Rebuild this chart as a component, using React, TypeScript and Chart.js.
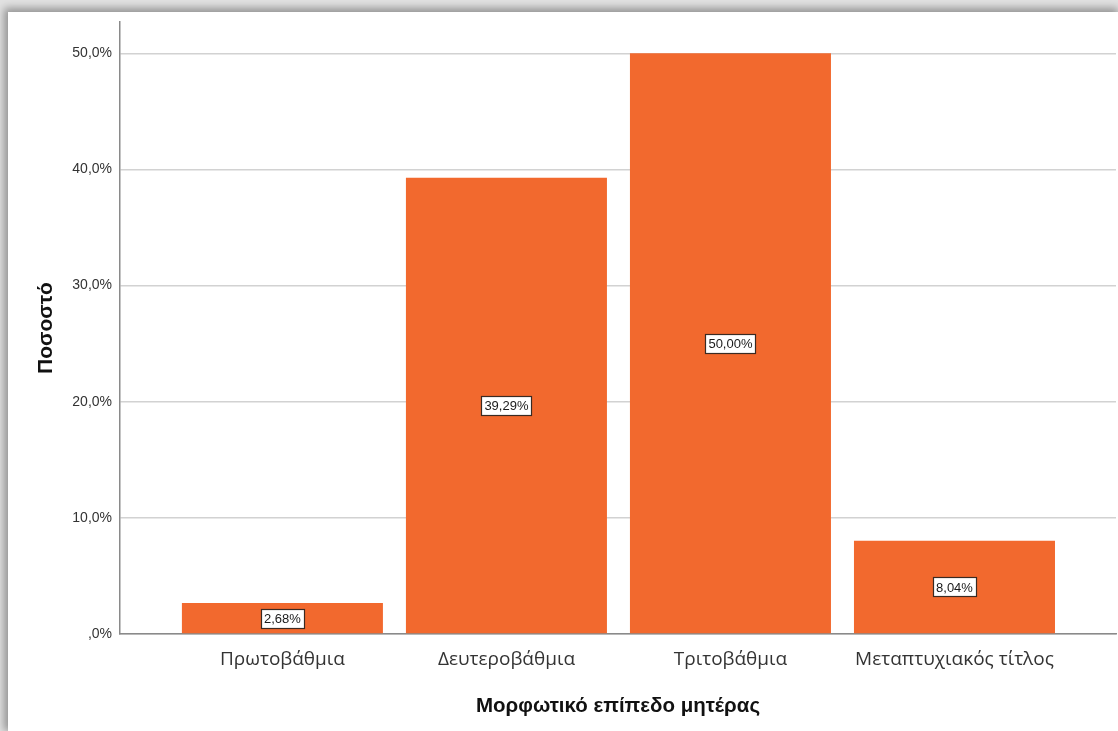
import React, { useEffect, useRef } from "react";
import { Chart, registerables } from "chart.js";

Chart.register(...registerables);

const categories = ["Πρωτοβάθμια", "Δευτεροβάθμια", "Τριτοβάθμια", "Μεταπτυχιακός τίτλος"];
const percentages = [2.68, 39.29, 50.0, 8.04];
const valueLabels = ["2,68%", "39,29%", "50,00%", "8,04%"];
const yTickValues = [0, 10, 20, 30, 40, 50];
const yTickLabels = [",0%", "10,0%", "20,0%", "30,0%", "40,0%", "50,0%"];
const xTitle = "Μορφωτικό επίπεδο μητέρας";
const yTitle = "Ποσοστό";

const BAR_COLOR = "#f2692e";

const boxLabelPlugin = {
  id: "boxLabels",
  afterDatasetsDraw(chart: any) {
    const ctx = chart.ctx;
    const meta = chart.getDatasetMeta(0);
    ctx.save();
    ctx.font = "13px 'Liberation Sans', Arial, sans-serif";
    ctx.textAlign = "center";
    ctx.textBaseline = "middle";
    meta.data.forEach((bar: any, i: number) => {
      const text = valueLabels[i];
      const cx = bar.x;
      const cy = (bar.y + bar.base) / 2;
      const w = ctx.measureText(text).width + 6;
      const h = 19;
      const x0 = Math.round(cx - w / 2) + 0.5;
      const y0 = Math.round(cy - h / 2) + 0.5;
      ctx.fillStyle = "#ffffff";
      ctx.fillRect(x0, y0, Math.round(w), h);
      ctx.strokeStyle = "#3a2a22";
      ctx.lineWidth = 1.2;
      ctx.strokeRect(x0, y0, Math.round(w), h);
      ctx.fillStyle = "#1a1a1a";
      ctx.fillText(text, cx, cy + 1);
    });
    ctx.restore();
  },
};

export default function App() {
  const canvasRef = useRef<HTMLCanvasElement | null>(null);

  useEffect(() => {
    document.body.style.margin = "0";
    const canvas = canvasRef.current;
    if (!canvas) return;
    const chart = new Chart(canvas, {
      type: "bar",
      data: {
        datasets: [
          {
            data: categories.map((_, i) => ({ x: i, y: percentages[i] })) as any,
            backgroundColor: BAR_COLOR,
            borderWidth: 0,
            barPercentage: 201 / 224,
            categoryPercentage: 1,
          },
        ],
      },
      options: {
        animation: false,
        responsive: false,
        maintainAspectRatio: false,
        layout: { padding: { top: 10, right: 2, left: 0, bottom: 0 } },
        plugins: {
          legend: { display: false },
          tooltip: { enabled: false },
        },
        scales: {
          x: {
            type: "linear",
            offset: false,
            min: -0.725,
            max: 3.721,
            afterBuildTicks: (axis: any) => {
              axis.ticks = categories.map((_, i) => ({ value: i }));
            },
            afterFit: (axis: any) => {
              axis.height = 97;
              axis.paddingLeft = 0;
              axis.paddingRight = 0;
            },
            grid: { display: false, drawTicks: false, offset: false },
            border: { display: true, color: "#8a8a8a", width: 1.5 },
            ticks: {
              autoSkip: false,
              maxRotation: 0,
              minRotation: 0,
              padding: 14,
              color: "#333333",
              font: { family: "'Open Sans', sans-serif", size: 19 },
              callback: (v: any) => categories[Math.round(Number(v))] ?? "",
            },
            title: {
              display: true,
              text: xTitle,
              color: "#111111",
              font: { family: "'Liberation Sans', Arial, sans-serif", size: 20.5, weight: "bold" },
              padding: { top: 12, bottom: 12 },
            },
          },
          y: {
            type: "linear",
            min: 0,
            max: 52.7,
            afterBuildTicks: (axis: any) => {
              axis.ticks = yTickValues.map((v) => ({ value: v }));
            },
            afterFit: (axis: any) => {
              axis.width = 112;
              axis.paddingTop = 0;
              axis.paddingBottom = 0;
            },
            grid: { display: true, color: "#d2d2d2", lineWidth: 1.5, drawTicks: false },
            border: { display: true, color: "#8a8a8a", width: 1.5 },
            ticks: {
              padding: 8,
              color: "#333333",
              font: { family: "'Liberation Sans', Arial, sans-serif", size: 14 },
              callback: (v: any) => {
                const idx = yTickValues.indexOf(Number(v));
                return idx >= 0 ? yTickLabels[idx] : "";
              },
            },
            title: {
              display: true,
              text: yTitle,
              color: "#111111",
              font: { family: "'Liberation Sans', Arial, sans-serif", size: 21, weight: "bold" },
              padding: { top: 26, bottom: 26 },
            },
          },
        },
      },
      plugins: [boxLabelPlugin],
    });
    return () => chart.destroy();
  }, []);

  return (
    <div style={{ position: "relative", width: 1118, height: 731, background: "#e2e2e2", overflow: "hidden" }}>
      <div
        style={{
          position: "absolute",
          left: 8,
          top: 12,
          width: 1110,
          height: 719,
          background: "#ffffff",
          boxShadow: "-2px -2px 8px 2px rgba(0,0,0,0.35)",
        }}
      >
        <canvas ref={canvasRef} width={1110} height={719} style={{ display: "block", width: 1110, height: 719 }} />
      </div>
    </div>
  );
}
